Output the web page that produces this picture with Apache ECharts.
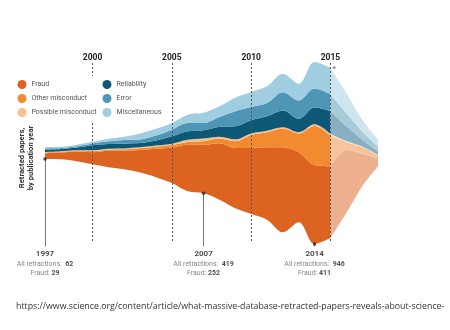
<!DOCTYPE html>
<html><head><meta charset="utf-8">
<script src="https://cdn.jsdelivr.net/npm/echarts@6/dist/echarts.min.js"></script>
<style>html,body{margin:0;padding:0;background:#fff}#c{width:450px;height:330px}</style>
</head><body><div id="c"></div>
<script>
// ---- data (retracted papers by publication year) ----
const years = ['1997','1998','1999','2000','2001','2002','2003','2004','2005','2006','2007','2008','2009','2010','2011','2012','2013','2014','2015','2016','2017','2018'];
const fraud      = [29, 34, 50, 63, 86, 97,117,148,185,243,252,294,314,343,376,442,364,411,374,329,170, 42];
const otherMis   = [ 4,  4,  4,  5,  6,  7,  9, 10, 13, 14, 19, 25, 35, 68, 78, 97, 97,203,159, 40, 35, 16];
const possibleMis= [ 3,  3,  3,  5,  5,  5,  5,  6,  7, 12, 14,  9, 10,  8,  8,  7,  7,  8,  8,  5,  3,  3];
const reliability= [12, 12, 14, 26, 24, 26, 23, 26, 38, 43, 43, 52, 68, 68, 75, 87, 70, 88,120, 78, 36, 16];
const errorVals  = [ 7,  5,  7,  9, 14, 18, 18, 26, 35, 44, 38, 50, 78, 69, 69, 95, 95, 98, 87, 68, 42, 26];
const misc       = [ 7,  6,  7,  9, 14, 17, 31, 35, 35, 43, 53, 56, 70, 78, 87, 96, 87,138,137,104, 62, 36];
const seriesNames = ['Fraud','Other misconduct','Possible misconduct','Reliability','Error','Miscellaneous'];
const annotYears  = ['1997','2007','2014'];
const annotTotals = [62, 419, 946];
const annotFraud  = [29, 252, 411];
const tickYears   = ['2000','2005','2010','2015'];
const incompleteFrom = '2015';
const sourceText = 'https://www.science.org/content/article/what-massive-database-retracted-papers-reveals-about-science-';

// ---- layout / style ----
const colors      = ['#dc6420','#f28b30','#f7c08e','#0e5877','#4f95b5','#a0cee0'];
const fadedColors = ['#ecb08f','#f6c49c','#fbdfc5','#88b0c2','#a8cbd9','#cde5ef'];
const S = 5.2;            // papers per pixel
const C = 1000;           // stream centred on C/2
const CENTER_PX = 153, GRID_TOP = 20, GRID_BOTTOM_PX = 300;
const v = px => C / 2 + (CENTER_PX - px) * S;
const FONT = 'Roboto, sans-serif';

const layers = [fraud, otherMis, possibleMis, reliability, errorVals, misc];
const totals = years.map((_, i) => layers.reduce((s, a) => s + a[i], 0));
const base = totals.map(t => (C - t) / 2);
const cut = years.indexOf(incompleteFrom);
const mainPart = arr => arr.slice(0, cut + 1);
const tailPart = arr => arr.map((x, i) => (i < cut ? '-' : x));

const chart = echarts.init(document.getElementById('c'), null, {renderer: 'canvas'});

const makeLayer = (arr, k, stack, col, smooth) => ({
  name: seriesNames[k], type: 'line', stack, data: arr,
  smooth, symbol: 'none', z: 2,
  lineStyle: {width: 0, opacity: 0},
  areaStyle: {color: col, opacity: 1},
  itemStyle: {color: colors[k]},
  emphasis: {disabled: true}, silent: true
});

const annIdx = annotYears.map(y => years.indexOf(y));
const legendCommon = {orient: 'vertical', top: 76, backgroundColor: '#fff', icon: 'circle',
  itemWidth: 9, itemHeight: 9, itemGap: 5, z: 10, selectedMode: false,
  textStyle: {fontSize: 7, color: '#555', fontFamily: FONT}};

const option = {
  animation: false,
  textStyle: {fontFamily: FONT},
  grid: {left: 45, right: 72, top: GRID_TOP, bottom: 330 - GRID_BOTTOM_PX},
  xAxis: {type: 'category', data: years, boundaryGap: false, show: false},
  yAxis: {type: 'value', min: v(GRID_BOTTOM_PX), max: v(GRID_TOP), show: false},
  title: {text: sourceText, left: 16, top: 302, padding: 0,
    textStyle: {fontFamily: '"Open Sans", sans-serif', fontSize: 8.8, fontWeight: 'normal', color: '#333'}},
  legend: [
    Object.assign({data: seriesNames.slice(0, 3), left: 13.5, padding: 4}, legendCommon),
    Object.assign({data: seriesNames.slice(3), left: 102.5, padding: [4, 4, 4, 0]}, legendCommon)
  ],
  graphic: [{
    type: 'text', x: 26.5, y: 158, rotation: Math.PI / 2, z: 10,
    style: {text: 'Retracted papers,\nby publication year', fill: '#333', font: 'bold 7.6px ' + FONT,
      align: 'center', verticalAlign: 'middle', lineHeight: 9.5}
  }],
  series: [
    {type: 'line', stack: 'main', data: mainPart(base), symbol: 'none', smooth: 0.35,
     lineStyle: {width: 0, opacity: 0}, silent: true, z: 1},
    ...layers.map((arr, k) => makeLayer(mainPart(arr), k, 'main', colors[k], 0.35)),
    {type: 'line', stack: 'tail', data: tailPart(base), symbol: 'none', smooth: 0.3,
     lineStyle: {width: 0, opacity: 0}, silent: true, z: 1},
    ...layers.map((arr, k) => makeLayer(tailPart(arr), k, 'tail', fadedColors[k], 0.3)),
    // year guide lines
    {type: 'line', data: [], z: 4, silent: true,
     markLine: {silent: true, symbol: ['none', 'none'],
       lineStyle: {type: [2, 2], color: '#555', width: 1},
       label: {show: true, position: 'start', distance: 1, formatter: p => p.data.yr,
               fontFamily: FONT, fontWeight: 'bold', fontSize: 8.5, color: '#222'},
       data: tickYears.map(y => [{coord: [y, v(63)], yr: y}, {coord: [y, v(242)]}])}},
    // asterisk
    {type: 'scatter', data: [[incompleteFrom, v(69)]], symbolSize: 0, z: 5, silent: true,
     label: {show: true, formatter: '*', position: 'right', distance: 2, fontSize: 8, color: '#333'}},
    // annotation dots + stems
    {type: 'scatter', data: annIdx.map(i => [years[i], base[i]]), symbol: 'circle', symbolSize: 3.5,
     itemStyle: {color: '#222'}, z: 5, silent: true,
     markLine: {silent: true, symbol: ['none', 'none'], lineStyle: {type: 'solid', color: '#777', width: 1},
       label: {show: false},
       data: annIdx.map(i => [{coord: [years[i], base[i]]}, {coord: [years[i], v(246.5)]}])}},
    // annotation texts
    {type: 'scatter', data: annIdx.map((i, k) => ({value: [years[i], v(246.5)], k})), symbolSize: 0, z: 5, silent: true,
     label: {show: true, position: 'bottom', distance: 3, fontSize: 7, lineHeight: 9.5,
       formatter: p => '{y|' + annotYears[p.data.k] + '}\n{a|All retractions:}  {b|' + annotTotals[p.data.k] + '}\n{a|Fraud:} {b|' + annotFraud[p.data.k] + '}',
       rich: {
         y: {fontFamily: FONT, fontWeight: 'bold', fontSize: 8, color: '#222', lineHeight: 9.5},
         a: {fontFamily: FONT, fontSize: 7, color: '#666', lineHeight: 9.5},
         b: {fontFamily: FONT, fontWeight: 'bold', fontSize: 7, color: '#222', lineHeight: 9.5}
       }}}
  ]
};
chart.setOption(option);
</script></body></html>
